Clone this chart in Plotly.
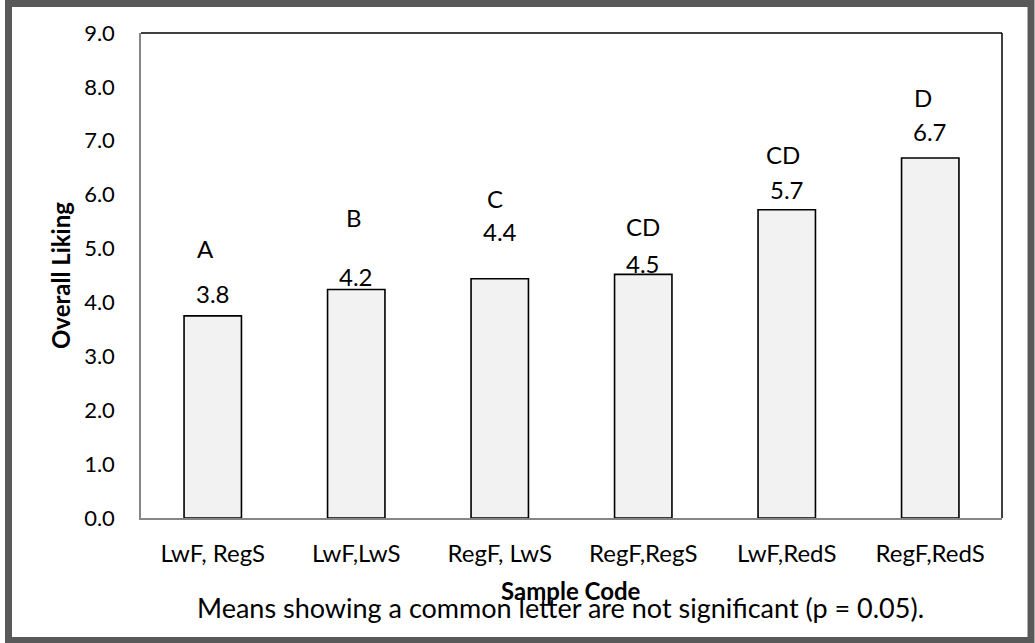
import plotly.graph_objects as go

categories = ["LwF, RegS", "LwF,LwS", "RegF, LwS", "RegF,RegS", "LwF,RedS", "RegF,RedS"]
values = [3.75, 4.24, 4.44, 4.52, 5.72, 6.68]
value_labels = ["3.8", "4.2", "4.4", "4.5", "5.7", "6.7"]
letters = ["A", "B", "C", "CD", "CD", "D"]
value_label_y = [4.17, 4.49, 5.32, 4.73, 6.10, 7.17]
letter_y = [5.01, 5.57, 5.92, 5.41, 6.74, 7.81]
letter_xshift = [-7, -2, -5, 0, -4, -7]
y_ticks = [0, 1, 2, 3, 4, 5, 6, 7, 8, 9]

FONT = "Lato"
W, H = 1035, 643
L, R, T, B = 141, 33, 33, 125
PW, PH = W - L - R, H - T - B


def px(x):
    return (x - L) / PW


def py(y):
    return (H - B - y) / PH


fig = go.Figure()
fig.add_trace(go.Bar(
    x=categories, y=values, width=0.4,
    marker=dict(color="#f2f2f2", line=dict(color="black", width=1.6)),
    showlegend=False,
))

for c, t, yv in zip(categories, value_labels, value_label_y):
    fig.add_annotation(x=c, y=yv, xref="x", yref="y", text=t, showarrow=False,
                       font=dict(family=FONT, size=24, color="black"),
                       xanchor="center", yanchor="middle")
for c, t, yv, xs in zip(categories, letters, letter_y, letter_xshift):
    fig.add_annotation(x=c, y=yv, xref="x", yref="y", text=t, showarrow=False,
                       xshift=xs,
                       font=dict(family=FONT, size=24, color="black"),
                       xanchor="center", yanchor="middle")

fig.add_annotation(x=px(571), y=py(590), xref="paper", yref="paper",
                   text="<b>Sample Code</b>", showarrow=False,
                   font=dict(family=FONT, size=24, color="black"),
                   xanchor="center", yanchor="middle")
fig.add_annotation(x=px(560), y=py(607), xref="paper", yref="paper",
                   text="Means showing a common letter are not significant (p = 0.05).",
                   showarrow=False,
                   font=dict(family=FONT, size=27, color="black"),
                   xanchor="center", yanchor="middle")
fig.add_annotation(x=px(60), y=py(276), xref="paper", yref="paper",
                   text="<b>Overall Liking</b>", showarrow=False, textangle=-90,
                   font=dict(family=FONT, size=24, color="black"),
                   xanchor="center", yanchor="middle")

# plot border: top & right black
fig.add_shape(type="line", xref="paper", yref="paper", x0=0, x1=1, y0=1, y1=1,
              line=dict(color="black", width=1.5))
fig.add_shape(type="line", xref="paper", yref="paper", x0=1, x1=1, y0=0, y1=1,
              line=dict(color="black", width=1.5))
# outer frame
fig.add_shape(type="rect", xref="paper", yref="paper",
              x0=px(8.5), x1=px(1031), y0=py(640.5), y1=py(3.5),
              line=dict(color="#595959", width=7))

fig.update_layout(
    width=W, height=H,
    margin=dict(l=L, r=R, t=T, b=B),
    paper_bgcolor="white", plot_bgcolor="white",
    font=dict(family=FONT, size=22, color="black"),
    bargap=0.6,
)
fig.update_xaxes(
    showline=True, linecolor="#868686", linewidth=1.5,
    showgrid=False, zeroline=False,
    ticks="outside", ticklen=13, tickcolor="rgba(0,0,0,0)",
    tickfont=dict(family=FONT, size=24, color="black"),
)
fig.update_yaxes(
    range=[0, 9], tickvals=y_ticks, tickformat=".1f",
    showline=True, linecolor="#868686", linewidth=1.5,
    showgrid=False, zeroline=False,
    ticks="outside", ticklen=20, tickcolor="rgba(0,0,0,0)",
    tickfont=dict(family=FONT, size=22, color="black"),
)

fig.write_html("out.html")
